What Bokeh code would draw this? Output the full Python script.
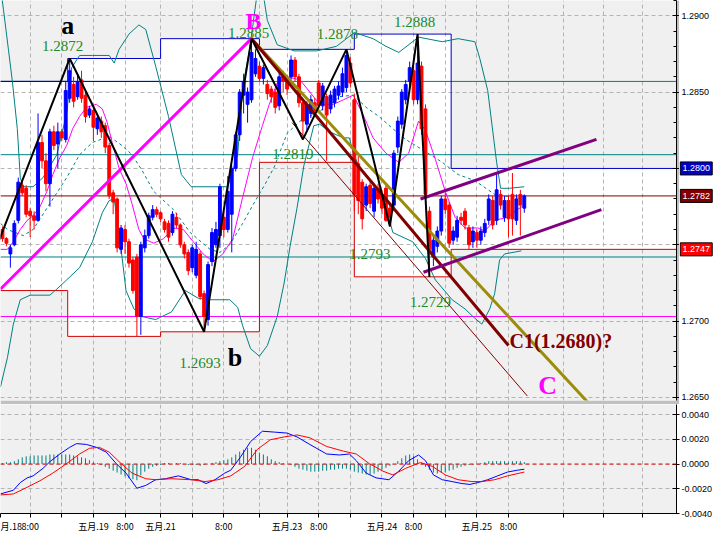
from bokeh.plotting import figure
from bokeh.layouts import column, row
from bokeh.models import (ColumnDataSource, FixedTicker, Range1d, Span, NumeralTickFormatter)
from bokeh.core.properties import value
from bokeh.embed import file_html
from bokeh.resources import INLINE

# ---------------- candle data (H1 bars, index = bar number) ----------------
open_ = [1.2760, 1.2754, 1.2744, 1.2750, 1.2766, 1.2789, 1.2787, 1.2772, 1.2769, 1.2766,
         1.2817, 1.2805, 1.2790, 1.2824, 1.2816, 1.2824, 1.2819, 1.2846, 1.2855, 1.2847,
         1.2858, 1.2848, 1.2835, 1.2838, 1.2826, 1.2831, 1.2828, 1.2815, 1.2784, 1.2780,
         1.2747, 1.2760, 1.2752, 1.2740, 1.2742, 1.2703, 1.2748, 1.2756, 1.2768, 1.2773,
         1.2771, 1.2765, 1.2764, 1.2758, 1.2768, 1.2763, 1.2750, 1.2745, 1.2735, 1.2730,
         1.2744, 1.2718, 1.2701, 1.2739, 1.2750, 1.2756, 1.2768, 1.2760, 1.2770, 1.2800,
         1.2822, 1.2848, 1.2842, 1.2845, 1.2862, 1.2867, 1.2859, 1.2855, 1.2852, 1.2850,
         1.2841, 1.2860, 1.2858, 1.2860, 1.2871, 1.2860, 1.2843, 1.2829, 1.2836, 1.2843,
         1.2856, 1.2841, 1.2847, 1.2839, 1.2843, 1.2848, 1.2850, 1.2853, 1.2869, 1.2845,
         1.2803, 1.2791, 1.2776, 1.2789, 1.2772, 1.2787, 1.2783, 1.2787, 1.2774, 1.2776,
         1.2814, 1.2829, 1.2845, 1.2857, 1.2864, 1.2845, 1.2867, 1.2839, 1.2772, 1.2742,
         1.2749, 1.2759, 1.2780, 1.2776, 1.2753, 1.2755, 1.2768, 1.2772, 1.2761, 1.2752,
         1.2758, 1.2753, 1.2758, 1.2766, 1.2779, 1.2766, 1.2783, 1.2768, 1.2779, 1.2783,
         1.2766, 1.2783, 1.2774]
high = [1.2762, 1.2755, 1.2750, 1.2766, 1.2794, 1.2792, 1.2789, 1.2774, 1.2772, 1.2836,
        1.2822, 1.2810, 1.2826, 1.2828, 1.2830, 1.2826, 1.2857, 1.2872, 1.2860, 1.2862,
        1.2864, 1.2850, 1.2841, 1.2840, 1.2836, 1.2834, 1.2830, 1.2817, 1.2786, 1.2781,
        1.2763, 1.2763, 1.2754, 1.2742, 1.2744, 1.2752, 1.2760, 1.2771, 1.2776, 1.2775,
        1.2772, 1.2767, 1.2766, 1.2772, 1.2771, 1.2764, 1.2752, 1.2747, 1.2750, 1.2752,
        1.2746, 1.2720, 1.2739, 1.2761, 1.2765, 1.2790, 1.2772, 1.2795, 1.2802, 1.2824,
        1.2852, 1.2862, 1.2853, 1.2885, 1.2878, 1.2870, 1.2868, 1.2858, 1.2854, 1.2852,
        1.2863, 1.2864, 1.2861, 1.2874, 1.2873, 1.2862, 1.2845, 1.2844, 1.2848, 1.2846,
        1.2858, 1.2856, 1.2849, 1.2851, 1.2854, 1.2857, 1.2866, 1.2878, 1.2873, 1.2849,
        1.2808, 1.2793, 1.2790, 1.2792, 1.2789, 1.2790, 1.2786, 1.2789, 1.2776, 1.2812,
        1.2834, 1.2852, 1.2858, 1.2870, 1.2870, 1.2888, 1.2870, 1.2842, 1.2775, 1.2756,
        1.2762, 1.2782, 1.2784, 1.2778, 1.2762, 1.2769, 1.2771, 1.2774, 1.2763, 1.2762,
        1.2760, 1.2762, 1.2767, 1.2783, 1.2782, 1.2797, 1.2786, 1.2782, 1.2782, 1.2797,
        1.2783, 1.2786, 1.2783]
low = [1.2752, 1.2749, 1.2735, 1.2749, 1.2764, 1.2782, 1.2768, 1.2755, 1.2760, 1.2765,
       1.2800, 1.2785, 1.2775, 1.2812, 1.2800, 1.2818, 1.2817, 1.2843, 1.2840, 1.2845,
       1.2843, 1.2830, 1.2833, 1.2818, 1.2822, 1.2820, 1.2810, 1.2780, 1.2770, 1.2745,
       1.2744, 1.2744, 1.2735, 1.2718, 1.2690, 1.2691, 1.2745, 1.2754, 1.2766, 1.2768,
       1.2765, 1.2758, 1.2752, 1.2756, 1.2761, 1.2748, 1.2741, 1.2730, 1.2732, 1.2728,
       1.2714, 1.2693, 1.2697, 1.2736, 1.2748, 1.2748, 1.2755, 1.2758, 1.2745, 1.2798,
       1.2818, 1.2836, 1.2830, 1.2843, 1.2860, 1.2857, 1.2855, 1.2845, 1.2843, 1.2836,
       1.2838, 1.2850, 1.2848, 1.2858, 1.2857, 1.2840, 1.2819, 1.2825, 1.2833, 1.2835,
       1.2838, 1.2838, 1.2805, 1.2836, 1.2840, 1.2845, 1.2847, 1.2850, 1.2853, 1.2772,
       1.2770, 1.2760, 1.2772, 1.2774, 1.2768, 1.2777, 1.2770, 1.2765, 1.2762, 1.2772,
       1.2810, 1.2826, 1.2842, 1.2854, 1.2842, 1.2842, 1.2822, 1.2780, 1.2729, 1.2736,
       1.2745, 1.2756, 1.2770, 1.2748, 1.2750, 1.2752, 1.2763, 1.2760, 1.2747, 1.2748,
       1.2748, 1.2750, 1.2755, 1.2763, 1.2760, 1.2763, 1.2773, 1.2765, 1.2755, 1.2756,
       1.2763, 1.2756, 1.2771]
close = [1.2754, 1.2751, 1.2748, 1.2764, 1.2791, 1.2784, 1.2770, 1.2769, 1.2766, 1.2817,
         1.2805, 1.2790, 1.2824, 1.2815, 1.2824, 1.2820, 1.2851, 1.2864, 1.2844, 1.2857,
         1.2846, 1.2834, 1.2839, 1.2827, 1.2833, 1.2824, 1.2814, 1.2782, 1.2778, 1.2748,
         1.2761, 1.2752, 1.2738, 1.2720, 1.2703, 1.2750, 1.2756, 1.2769, 1.2773, 1.2770,
         1.2767, 1.2760, 1.2755, 1.2770, 1.2763, 1.2750, 1.2744, 1.2733, 1.2748, 1.2747,
         1.2716, 1.2703, 1.2737, 1.2758, 1.2760, 1.2788, 1.2760, 1.2785, 1.2800, 1.2822,
         1.2850, 1.2857, 1.2850, 1.2876, 1.2872, 1.2859, 1.2866, 1.2849, 1.2847, 1.2840,
         1.2860, 1.2857, 1.2852, 1.2871, 1.2860, 1.2843, 1.2831, 1.2842, 1.2845, 1.2838,
         1.2841, 1.2854, 1.2835, 1.2848, 1.2852, 1.2854, 1.2862, 1.2874, 1.2856, 1.2783,
         1.2779, 1.2767, 1.2788, 1.2777, 1.2787, 1.2780, 1.2774, 1.2766, 1.2768, 1.2810,
         1.2831, 1.2850, 1.2855, 1.2866, 1.2845, 1.2869, 1.2826, 1.2783, 1.2747, 1.2753,
         1.2759, 1.2780, 1.2773, 1.2751, 1.2759, 1.2766, 1.2766, 1.2763, 1.2750, 1.2759,
         1.2753, 1.2759, 1.2764, 1.2780, 1.2763, 1.2786, 1.2776, 1.2779, 1.2767, 1.2767,
         1.2780, 1.2776, 1.2782]

# ---------------- indicators (bar, value) ----------------
bb_upper_x = [-0.5, 0.25, 1.5, 2.5, 3.75, 4.5, 5.25, 7.75, 10.25, 13.75, 16.25, 17.5, 19.5, 22.75,
              27, 28.25, 29.5, 32, 34.5, 36.25, 38.75, 42, 45.25, 47.75, 52.75, 57, 59.5, 60.75,
              62.5, 63.5, 64.5, 65.5, 67, 69.5, 73.75, 79.5, 84.5, 89, 93.75, 97, 100.25, 105.25,
              111.25, 115.25, 119.5, 120.75, 122.75, 125, 126, 128.25, 132]
bb_upper_y = [1.2919, 1.2904, 1.2878, 1.2857, 1.2826, 1.2794, 1.2788, 1.2788, 1.2794, 1.2809,
              1.2836, 1.2866, 1.2874, 1.2874, 1.2874, 1.2869, 1.2878, 1.2888, 1.2894, 1.2891,
              1.2867, 1.2834, 1.2796, 1.2788, 1.2788, 1.2788, 1.2809, 1.2853, 1.2878, 1.2897,
              1.2916, 1.2922, 1.2897, 1.2881, 1.2877, 1.2877, 1.2880, 1.2889, 1.2885, 1.2880,
              1.2876, 1.2886, 1.2883, 1.2885, 1.2883, 1.2872, 1.2851, 1.2804, 1.2787, 1.2787,
              1.2788]
bb_mid_x = [-0.5, 1.25, 5.25, 7.75, 12, 16.25, 19.5, 22.75, 27, 30.25, 32.75, 35.25, 38.25, 43.25,
            47.5, 52.5, 55, 57.5, 60.75, 64, 66.5, 68.75, 72, 75.25, 82, 85.25, 88.75, 92, 95.25,
            98.75, 102, 107, 111.25, 115.25, 119.5, 124.5, 132]
bb_mid_y = [1.2764, 1.2760, 1.2756, 1.2760, 1.2777, 1.2794, 1.2809, 1.2817, 1.2821, 1.2815,
            1.2809, 1.2799, 1.2785, 1.2773, 1.2758, 1.2747, 1.2745, 1.2750, 1.2764, 1.2779,
            1.2790, 1.2801, 1.2823, 1.2831, 1.2840, 1.2847, 1.2848, 1.2840, 1.2834, 1.2826,
            1.2819, 1.2811, 1.2804, 1.2796, 1.2792, 1.2783, 1.2780]
bb_lower_x = [-0.5, 1.25, 2.75, 4.5, 7, 12, 13.75, 16.25, 19.5, 22.75, 25.25, 27, 28.25, 29.5,
              31.25, 33.25, 35.25, 38.75, 42.75, 46.25, 49.5, 52.75, 57.5, 59.5, 60.75, 62.75,
              65, 67, 69.5, 71.25, 72.75, 74.5, 76.25, 78.75, 80.25, 82.75, 86.25, 87.75, 88.75,
              90.25, 92.75, 96.25, 98.75, 103.75, 107, 109.5, 113.75, 117, 119, 121.25, 123.25,
              124.5, 125.75, 127, 131.25]
bb_lower_y = [1.2657, 1.2676, 1.2698, 1.2714, 1.2717, 1.2717, 1.2721, 1.2727, 1.2735, 1.2752,
              1.2771, 1.2779, 1.2780, 1.2758, 1.2720, 1.2708, 1.2703, 1.2701, 1.2706, 1.2720,
              1.2715, 1.2714, 1.2714, 1.2709, 1.2697, 1.2682, 1.2677, 1.2684, 1.2703, 1.2725,
              1.2749, 1.2774, 1.2802, 1.2828, 1.2829, 1.2824, 1.2820, 1.2820, 1.2810, 1.2801,
              1.2793, 1.2782, 1.2758, 1.2752, 1.2741, 1.2727, 1.2714, 1.2708, 1.2703, 1.2698,
              1.2708, 1.2718, 1.2740, 1.2744, 1.2746]
ma_x = [-0.5, 1.25, 2.75, 4.5, 6.25, 7.75, 9.5, 11.25, 12.75, 14.5, 16.25, 17.75, 19.5, 21.25,
        23.75, 25.25, 26.5, 27.75, 29.5, 31.25, 32.75, 34.5, 35.75, 38.25, 40.75, 43.25, 45.75,
        48.25, 50.75, 53.25, 55.75, 58.25, 60.75, 63.25, 65.75, 67.5, 69.5, 72, 75.25, 77.75,
        80.25, 83.75, 86.25, 88.75, 91.25, 93.75, 97, 100.25, 102.75, 105.25, 107, 109.5, 112,
        114.5, 117, 120.25, 122, 124.5, 127.75, 130.25, 132]
ma_y = [1.2747, 1.2747, 1.2752, 1.2760, 1.2766, 1.2769, 1.2775, 1.2785, 1.2796, 1.2807, 1.2815,
        1.2826, 1.2834, 1.2840, 1.2842, 1.2839, 1.2830, 1.2817, 1.2800, 1.2790, 1.2777, 1.2760,
        1.2754, 1.2751, 1.2754, 1.2761, 1.2760, 1.2752, 1.2744, 1.2739, 1.2744, 1.2754, 1.2781,
        1.2807, 1.2828, 1.2842, 1.2856, 1.2860, 1.2858, 1.2850, 1.2842, 1.2842, 1.2845, 1.2848,
        1.2835, 1.2820, 1.2810, 1.2804, 1.2810, 1.2831, 1.2825, 1.2806, 1.2785, 1.2768, 1.2761,
        1.2761, 1.2759, 1.2766, 1.2768, 1.2773, 1.2776]

macd_x = [-0.5, 2.75, 4.5, 6.25, 7.75, 10.25, 12, 14.5, 17, 18.75, 21.25, 23.75, 26.25, 28.75,
          31.25, 34, 36.25, 38.75, 41.25, 44.5, 47.75, 49.5, 51.5, 53.75, 56.25, 57.75, 60.25,
          62.75, 65.75, 68.75, 72, 74.5, 77.75, 82, 85.25, 87.75, 89.5, 92, 94.5, 97.75, 100.25,
          102.75, 105.25, 107, 109, 111.25, 113.75, 116.25, 118.25, 120.25, 122.75, 125.25,
          127.75, 130.25, 132]
macd_y = [-0.00242, -0.00212, -0.00150, -0.00112, -0.00096, -0.00035, 0.00019, 0.00081, 0.00135,
          0.00165, 0.00158, 0.00135, 0.00096, 0.00004, -0.00073, -0.00196, -0.00173, -0.00127,
          -0.00119, -0.00096, -0.00127, -0.00127, -0.00158, -0.00127, -0.00073, -0.00050,
          0.00058, 0.00181, 0.00265, 0.00258, 0.00250, 0.00219, 0.00158, 0.00081, 0.00073,
          0.00081, 0.00027, -0.00073, -0.00112, -0.00127, -0.00058, 0.00027, 0.00073, 0.00027,
          -0.00088, -0.00127, -0.00142, -0.00158, -0.00165, -0.00150, -0.00127, -0.00096,
          -0.00065, -0.00050, -0.00042]
signal_x = [-0.5, 2.75, 6.25, 9.5, 12.75, 16.25, 19.5, 22, 24.5, 27, 29.5, 32.75, 36.25, 38.75,
            42.75, 47.75, 51.25, 54.5, 57.75, 61.25, 64.5, 67.75, 71.25, 74.5, 77.75, 82, 86.25,
            89.5, 92.75, 96.25, 98.75, 102, 105.75, 108.75, 112, 115.25, 118.75, 121.25, 124.5,
            127.75, 132]
signal_y = [-0.00250, -0.00242, -0.00188, -0.00135, -0.00073, 0.00004, 0.00081, 0.00127,
            0.00135, 0.00096, 0.00019, -0.00073, -0.00119, -0.00127, -0.00119, -0.00127,
            -0.00142, -0.00127, -0.00096, -0.00019, 0.00119, 0.00196, 0.00219, 0.00235, 0.00212,
            0.00142, 0.00104, 0.00081, 0.00004, -0.00058, -0.00088, -0.00035, 0.00012, -0.00019,
            -0.00088, -0.00127, -0.00142, -0.00142, -0.00127, -0.00096, -0.00065]
histogram = [0.00008, 0.00015, 0.00015, 0.00023, 0.00038, 0.00054, 0.00062, 0.00062, 0.00069, 0.00069,
             0.00069, 0.00069, 0.00077, 0.00077, 0.00077, 0.00077, 0.00077, 0.00077, 0.00069, 0.00062,
             0.00054, 0.00046, 0.00031, 0.00015, 0.00008,
             -0.00008, -0.00023, -0.00038, -0.00054, -0.00069, -0.00085, -0.00100, -0.00115, -0.00123, -0.00131,
             -0.00092, -0.00062, -0.00038, -0.00023, -0.00015,
             -0.00008, 0.00008, 0.00008, 0.0, 0.00008, 0.00008, 0.0, -0.00008, -0.00008, -0.00008,
             -0.00015, -0.00008, 0.0, 0.00008, 0.00015,
             0.00023, 0.00031, 0.00038, 0.00054, 0.00077, 0.00100, 0.00115, 0.00131, 0.00131, 0.00115,
             0.00092, 0.00077, 0.00062, 0.00038, 0.00023,
             0.00015, 0.00008, 0.0, -0.00008, -0.00023, -0.00038, -0.00046, -0.00054, -0.00062, -0.00062,
             -0.00062, -0.00054, -0.00054, -0.00046, -0.00046, -0.00038, -0.00038, -0.00038, -0.00046, -0.00062,
             -0.00069, -0.00077, -0.00085, -0.00085, -0.00077, -0.00062, -0.00046, -0.00031, -0.00015, 0.0,
             0.00023, 0.00046, 0.00069, 0.00077, 0.00062, 0.00038, 0.00008,
             -0.00023, -0.00046, -0.00069, -0.00077, -0.00069, -0.00069,
             -0.00054, -0.00046, -0.00031, -0.00023, -0.00015, -0.00008, -0.00008, 0.0, 0.00008,
             0.00015, 0.00023, 0.00023, 0.00023, 0.00023, 0.00023, 0.00015, 0.00023, 0.00023, 0.00023,
             0.00015]

# daily high / low ranges
day_start = [-0.5, 16.5, 40, 65, 89, 113.5]
day_end = [16.5, 40, 65, 89, 113.5, 170.5]
day_high = [1.2857, 1.2872, 1.2885, 1.2878, 1.2888, 1.2800]
day_low = [1.2720, 1.2690, 1.2693, 1.2804, 1.2729, 1.2747]

# drawn objects: zigzag swing points and trend lines (bar, price)
zigzag_bars = [-1, 17, 51, 63, 76, 87, 98, 105, 108]
zigzag_prices = [1.2752, 1.2872, 1.2693, 1.2885, 1.2819, 1.2878, 1.2762, 1.2888, 1.2729]
swing_labels = ["1.2872", "1.2693", "1.2885", "1.2819", "1.2878", "1.2793", "1.2888", "1.2729"]
magenta_trend = ([-0.5, 63], [1.2721, 1.2885])
olive_trend = ([63, 148], [1.2885, 1.2647])
maroon_trend = ([63, 128], [1.2885, 1.2684])
thin_trend = ([73.25, 132.75], [1.2830, 1.2651])
channel_upper = ([105.75, 150.25], [1.2780, 1.2819])
channel_lower = ([106.5, 151.5], [1.2732, 1.2773])
teal_levels = [1.2857, 1.2809, 1.2742]
magenta_level = 1.2703
blue_level = (1.2857, -0.5, 62)

# axes
price_ticks = [1.265, 1.270, 1.275, 1.280, 1.285, 1.290]
price_minor = [1.265 + 0.001 * i for i in range(27)]
grid_bars = [7, 15, 23, 31, 40, 48, 56, 65, 72, 80, 88, 96, 104, 112, 120, 128, 142, 152, 162]
time_tick_bars = [-0.5, 7, 23, 31, 40, 56, 72, 80, 96, 104, 120, 128]
time_tick_labels = ["月.18", "8:00", "五月.19", "8:00", "五月.21", "8:00", "五月.23", "8:00",
                    "五月.24", "8:00", "五月.25", "8:00"]
macd_ticks = [-0.004, -0.002, 0.0, 0.002, 0.004]

X0, X1 = -0.5, 170.5
Y0, Y1 = 1.2648, 1.2910
GREEN = "#238a23"
TEAL = "#008080"
FW, FH, SEP = 676, 400, 4

# ======================= price panel =======================
p = figure(frame_width=FW, frame_height=FH, x_range=Range1d(X0, X1),
           y_range=Range1d(Y0, Y1), output_backend="svg", toolbar_location=None,
           y_axis_location="right", min_border_left=0, min_border_right=0,
           min_border_top=0, min_border_bottom=SEP, background_fill_color="#f0f0f0",
           border_fill_color="#c0c0c0", outline_line_color=None)
p.xaxis.visible = False
p.xgrid.ticker = FixedTicker(ticks=grid_bars)
for g in (p.xgrid, p.ygrid):
    g.grid_line_color = "#b4b4b4"
    g.grid_line_dash = "4 3"
    g.level = "underlay"
ax = p.yaxis[0]
ax.ticker = FixedTicker(ticks=price_ticks, minor_ticks=price_minor)
ax.major_label_overrides = {t: "" for t in price_ticks}
ax.axis_line_color = "black"
ax.major_tick_line_color = "black"
ax.minor_tick_line_color = "black"
ax.major_tick_in = 4
ax.major_tick_out = 3
ax.minor_tick_in = 3
ax.minor_tick_out = 0
ax.major_label_standoff = 0
ax.major_label_text_font_size = "1px"

# daily range (white) and its steps
day_src = ColumnDataSource(dict(left=day_start, right=day_end, top=day_high, bottom=day_low))
r = p.quad(left="left", right="right", top="top", bottom="bottom", source=day_src,
           fill_color="white", line_color=None)
r.level = "image"
step_x = day_start + [day_end[-1]]
p.step(step_x, day_high + [day_high[-1]], mode="after", line_color="#0000c8", line_width=1)
p.step(step_x, day_low + [day_low[-1]], mode="after", line_color="#d00000", line_width=1)

for lv in teal_levels:
    p.add_layout(Span(location=lv, dimension="width", line_color=TEAL, line_width=1, level="underlay"))
p.add_layout(Span(location=magenta_level, dimension="width", line_color="#ff00ff", line_width=1,
                  level="underlay"))
p.add_layout(Span(location=close[-1], dimension="width", line_color="#800000", line_width=1,
                  level="underlay"))
p.line([blue_level[1], blue_level[2]], [blue_level[0], blue_level[0]], line_color="#0000c8",
       line_width=1)

# bands and MA
p.line(bb_upper_x, bb_upper_y, line_color=TEAL, line_width=1)
p.line(bb_lower_x, bb_lower_y, line_color=TEAL, line_width=1)
p.line(bb_mid_x, bb_mid_y, line_color=TEAL, line_width=1, line_dash="3 3")
p.line(ma_x, ma_y, line_color="#ff00ff", line_width=1)

# candles
bars = list(range(len(close)))
cols = ["#0000ff" if c >= o else "#ff0000" for o, c in zip(open_, close)]
src = ColumnDataSource(dict(x=bars, h=high, l=low,
                            top=[max(o, c) for o, c in zip(open_, close)],
                            bot=[min(o, c) for o, c in zip(open_, close)], col=cols))
p.segment(x0="x", y0="h", x1="x", y1="l", line_color="col", line_width=1, source=src)
p.vbar(x="x", width=0.72, top="top", bottom="bot", fill_color="col", line_color="col", source=src)

# trend lines
p.line(*magenta_trend, line_color="#ff00ff", line_width=3)
p.line(*olive_trend, line_color="#9b8c0a", line_width=3)
p.line(*maroon_trend, line_color="#800000", line_width=3)
p.line(*thin_trend, line_color="#800000", line_width=1)
p.line(*channel_upper, line_color="#800080", line_width=3)
p.line(*channel_lower, line_color="#800080", line_width=3)
p.line(zigzag_bars, zigzag_prices, line_color="black", line_width=2)

# swing labels
lab_src = ColumnDataSource(dict(x=zigzag_bars[1:], y=zigzag_prices[1:], t=swing_labels,
                                dx=[-7, -4, -3, -10, -9, -20, -3, 1],
                                dy=[-13, 31, -6, 15, -15, 28, -12, 25]))
p.text(x="x", y="y", text="t", x_offset="dx", y_offset="dy", source=lab_src,
       text_font=value("Liberation Serif"), text_font_size=value("15px"),
       text_color=GREEN, text_align="center", text_baseline="alphabetic")

wave_src = ColumnDataSource(dict(x=[zigzag_bars[1], zigzag_bars[2]],
                                 y=[zigzag_prices[1], zigzag_prices[2]], t=["a", "b"],
                                 dx=[-2, 31], dy=[-33, 26]))
p.text(x="x", y="y", text="t", x_offset="dx", y_offset="dy", source=wave_src,
       text_font=value("Liberation Serif"), text_font_style="bold", text_font_size=value("26px"),
       text_color="black", text_align="center", text_baseline="alphabetic")
p.text(x=[zigzag_bars[3]], y=[zigzag_prices[3]], text=["B"], x_offset=2, y_offset=-18,
       text_font=value("Liberation Serif"), text_font_style="bold", text_font_size=value("24px"),
       text_color="#ff00ff", text_align="center", text_baseline="alphabetic")
p.text(x=[maroon_trend[0][1]], y=[maroon_trend[1][1]], text=["C1(1.2680)?"], x_offset=1,
       y_offset=-5, text_font=value("Liberation Serif"), text_font_style="bold",
       text_font_size=value("20px"), text_color="#800000", text_align="left",
       text_baseline="alphabetic")
p.text(x=[olive_trend[0][1]], y=[olive_trend[1][1]], text=["C"], x_offset=-40, y_offset=-17,
       text_font=value("Liberation Serif"), text_font_style="bold", text_font_size=value("26px"),
       text_color="#ff00ff", text_align="center", text_baseline="alphabetic")

# ---- price scale labels and current-level markers (beside the axis) ----
pa_y0 = Y1 - (Y1 - Y0) * (FH + SEP) / FH   # same scale as the price panel, SEP px taller
pa = figure(frame_width=38, frame_height=FH + SEP, x_range=Range1d(0, 1),
            y_range=Range1d(pa_y0, Y1), output_backend="svg", toolbar_location=None,
            x_axis_location=None, y_axis_location=None, min_border_left=0, min_border_right=0,
            min_border_top=0, min_border_bottom=0, background_fill_color="white",
            border_fill_color="white", outline_line_color=None)
pa.grid.visible = False
marker_prices = [day_high[-1], close[-1], day_low[-1]]
marker_colors = ["#0000c8", "#800000", "#ff0000"]
shown_ticks = [t for t in price_ticks if all(abs(t - m) > 0.0006 for m in marker_prices)]
pa.text(x=[0] * len(shown_ticks), y=shown_ticks, text=[f"{t:.4f}" for t in shown_ticks],
        x_offset=2, text_font=value("Liberation Sans"), text_font_size=value("9px"),
        text_color="black", text_align="left", text_baseline="middle")
pa.rect(x=[0.44] * 3, y=marker_prices, width=32, height=13, width_units="screen",
        height_units="screen", fill_color=marker_colors, line_color="black", line_width=1)
pa.text(x=[0.44] * 3, y=marker_prices, text=[f"{m:.4f}" for m in marker_prices],
        text_font=value("Liberation Sans"), text_font_size=value("9px"), text_color="white",
        text_align="center", text_baseline="middle")

# ======================= MACD panel =======================
q = figure(frame_width=FW, frame_height=109, x_range=p.x_range,
           y_range=Range1d(-0.0040, 0.00481), output_backend="svg", toolbar_location=None,
           y_axis_location="right", min_border_left=0, min_border_right=0,
           min_border_top=0, min_border_bottom=0, background_fill_color="#f0f0f0",
           border_fill_color="white", outline_line_color=None)
q.xgrid.ticker = FixedTicker(ticks=grid_bars)
for g in (q.xgrid, q.ygrid):
    g.grid_line_color = "#b4b4b4"
    g.grid_line_dash = "4 3"
qy = q.yaxis[0]
qy.ticker = FixedTicker(ticks=macd_ticks)
qy.formatter = NumeralTickFormatter(format="0.0000")
qx = q.xaxis[0]
qx.ticker = FixedTicker(ticks=time_tick_bars + [b for b in grid_bars if b not in time_tick_bars])
overrides = {b: "" for b in grid_bars}
overrides.update(dict(zip(time_tick_bars, time_tick_labels)))
qx.major_label_overrides = overrides
qx.major_label_text_font = "Noto Sans CJK SC"
for a in (qx, qy):
    a.axis_line_color = "black"
    a.major_tick_line_color = "black"
    a.minor_tick_line_color = None
    a.major_tick_in = 0
    a.major_tick_out = 4
    a.major_label_standoff = 2
    a.major_label_text_font_size = "9px"
    a.major_label_text_color = "black"
qy.major_tick_in = 4
qy.major_tick_out = 3
qy.major_label_text_font = "Liberation Sans"

q.add_layout(Span(location=0, dimension="width", line_color="#ff0000", line_dash="4 3",
                  line_width=1))
q.segment(x0=bars, y0=[0] * len(histogram), x1=bars, y1=histogram, line_color=TEAL, line_width=1)
q.line(macd_x, macd_y, line_color="#0000ff", line_width=1)
q.line(signal_x, signal_y, line_color="#ff0000", line_width=1)

layout = column(row(p, pa), q)
open("out.html", "w").write(file_html(layout, INLINE))
